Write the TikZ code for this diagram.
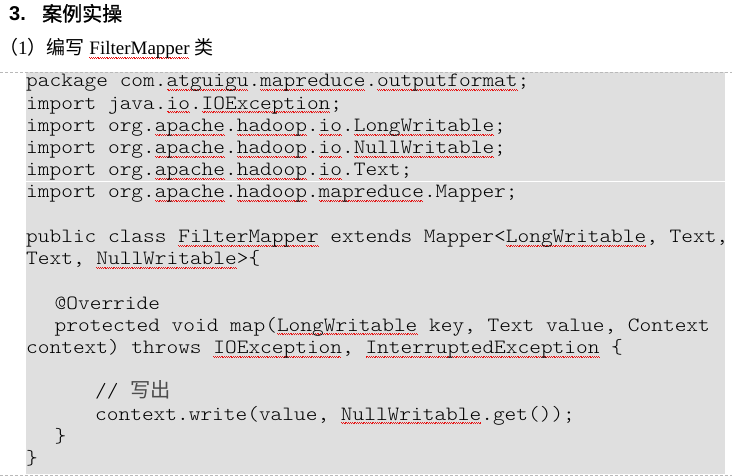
\documentclass[tikz,border=0pt]{standalone}
\usepackage{fontspec}
\setmainfont{Liberation Serif}
\setsansfont{Liberation Sans}
\newfontfamily\cjk{Noto Sans CJK SC}
\newfontfamily\cjkbold[FakeBold=1.2]{Noto Sans CJK SC}
\newfontfamily\codefont{lmmonolt10-regular.otf}[FakeStretch=1.1]

\definecolor{codegray}{RGB}{223,223,223}
\definecolor{rulegray}{RGB}{185,185,185}
\definecolor{spellred}{RGB}{230,20,20}

% red wavy spell-check underline
\newsavebox\spellbox
\newcommand\spell[1]{\sbox\spellbox{#1}%
  \rlap{\hbox to \wd\spellbox{\color{spellred}\leaders\hbox{%
    \rule[-3.2pt]{0.9pt}{0.9pt}\rule[-4.1pt]{0.9pt}{0.9pt}}\hfill}}%
  \usebox\spellbox}

\tikzset{
  code/.style={anchor=base west,inner sep=0,
    font=\codefont\fontsize{20.26}{22}\selectfont},
  head/.style={anchor=base west,inner sep=0}
}

\begin{document}
\begin{tikzpicture}[x=1pt,y=-1pt]
  \useasboundingbox (0,0) rectangle (732,476);

  \node[head,font=\sffamily\bfseries\fontsize{20}{24}\selectfont] (secnum) at (9,21) {3.};
  \node[head,font=\fontsize{20}{24}\selectfont] (sectitle) at (42,21) {\cjkbold 案例实操};
  \node[head,font=\fontsize{19}{22}\selectfont] (step) at (-1,55)
    {{\cjk （}1{\cjk ）编写} \spell{FilterMapper} {\cjk 类}};

  \fill[codegray] (26,72.5) rectangle (725,474);
  \draw[white,line width=1pt] (26,182) -- (725,182);
  \draw[rulegray,dash pattern=on 3pt off 2pt] (0,72) -- (732,72);
  \draw[rulegray,dash pattern=on 3pt off 2pt] (0,475.5) -- (732,475.5);

  \node[code] (l1) at (26,87) {package com.\spell{atguigu}.\spell{mapreduce}.\spell{outputformat};};
  \node[code] (l2) at (26,109.2) {import java.\spell{io}.\spell{IOException};};
  \node[code] (l3) at (26,131.4) {import org.\spell{apache}.\spell{hadoop}.\spell{io}.\spell{LongWritable};};
  \node[code] (l4) at (26,153.6) {import org.\spell{apache}.\spell{hadoop}.\spell{io}.\spell{NullWritable};};
  \node[code] (l5) at (26,175.8) {import org.\spell{apache}.\spell{hadoop}.\spell{io}.Text;};
  \node[code] (l6) at (26,198) {import org.\spell{apache}.\spell{hadoop}.\spell{mapreduce}.Mapper;};

  \node[code] (l8) at (26,242.4) {public class \spell{FilterMapper} extends Mapper<\spell{LongWritable}, Text,};
  \node[code] (l9) at (26,264.6) {Text, \spell{NullWritable}>\{};

  \node[code] (l11) at (54.5,309) {@Override};
  \node[code] (l12) at (54.5,331.2) {protected void map(\spell{LongWritable} key, Text value, Context};
  \node[code] (l13) at (26,353.4) {context) throws \spell{IOException}, \spell{InterruptedException} \{};

  \node[code] (l15) at (95,397.8) {// {\cjk\color{black!70}写出}};
  \node[code] (l16) at (95,420) {context.write(value, \spell{NullWritable}.get());};
  \node[code] (l17) at (54.5,442.2) {\}};
  \node[code] (l18) at (26,464.4) {\}};
\end{tikzpicture}
\end{document}
